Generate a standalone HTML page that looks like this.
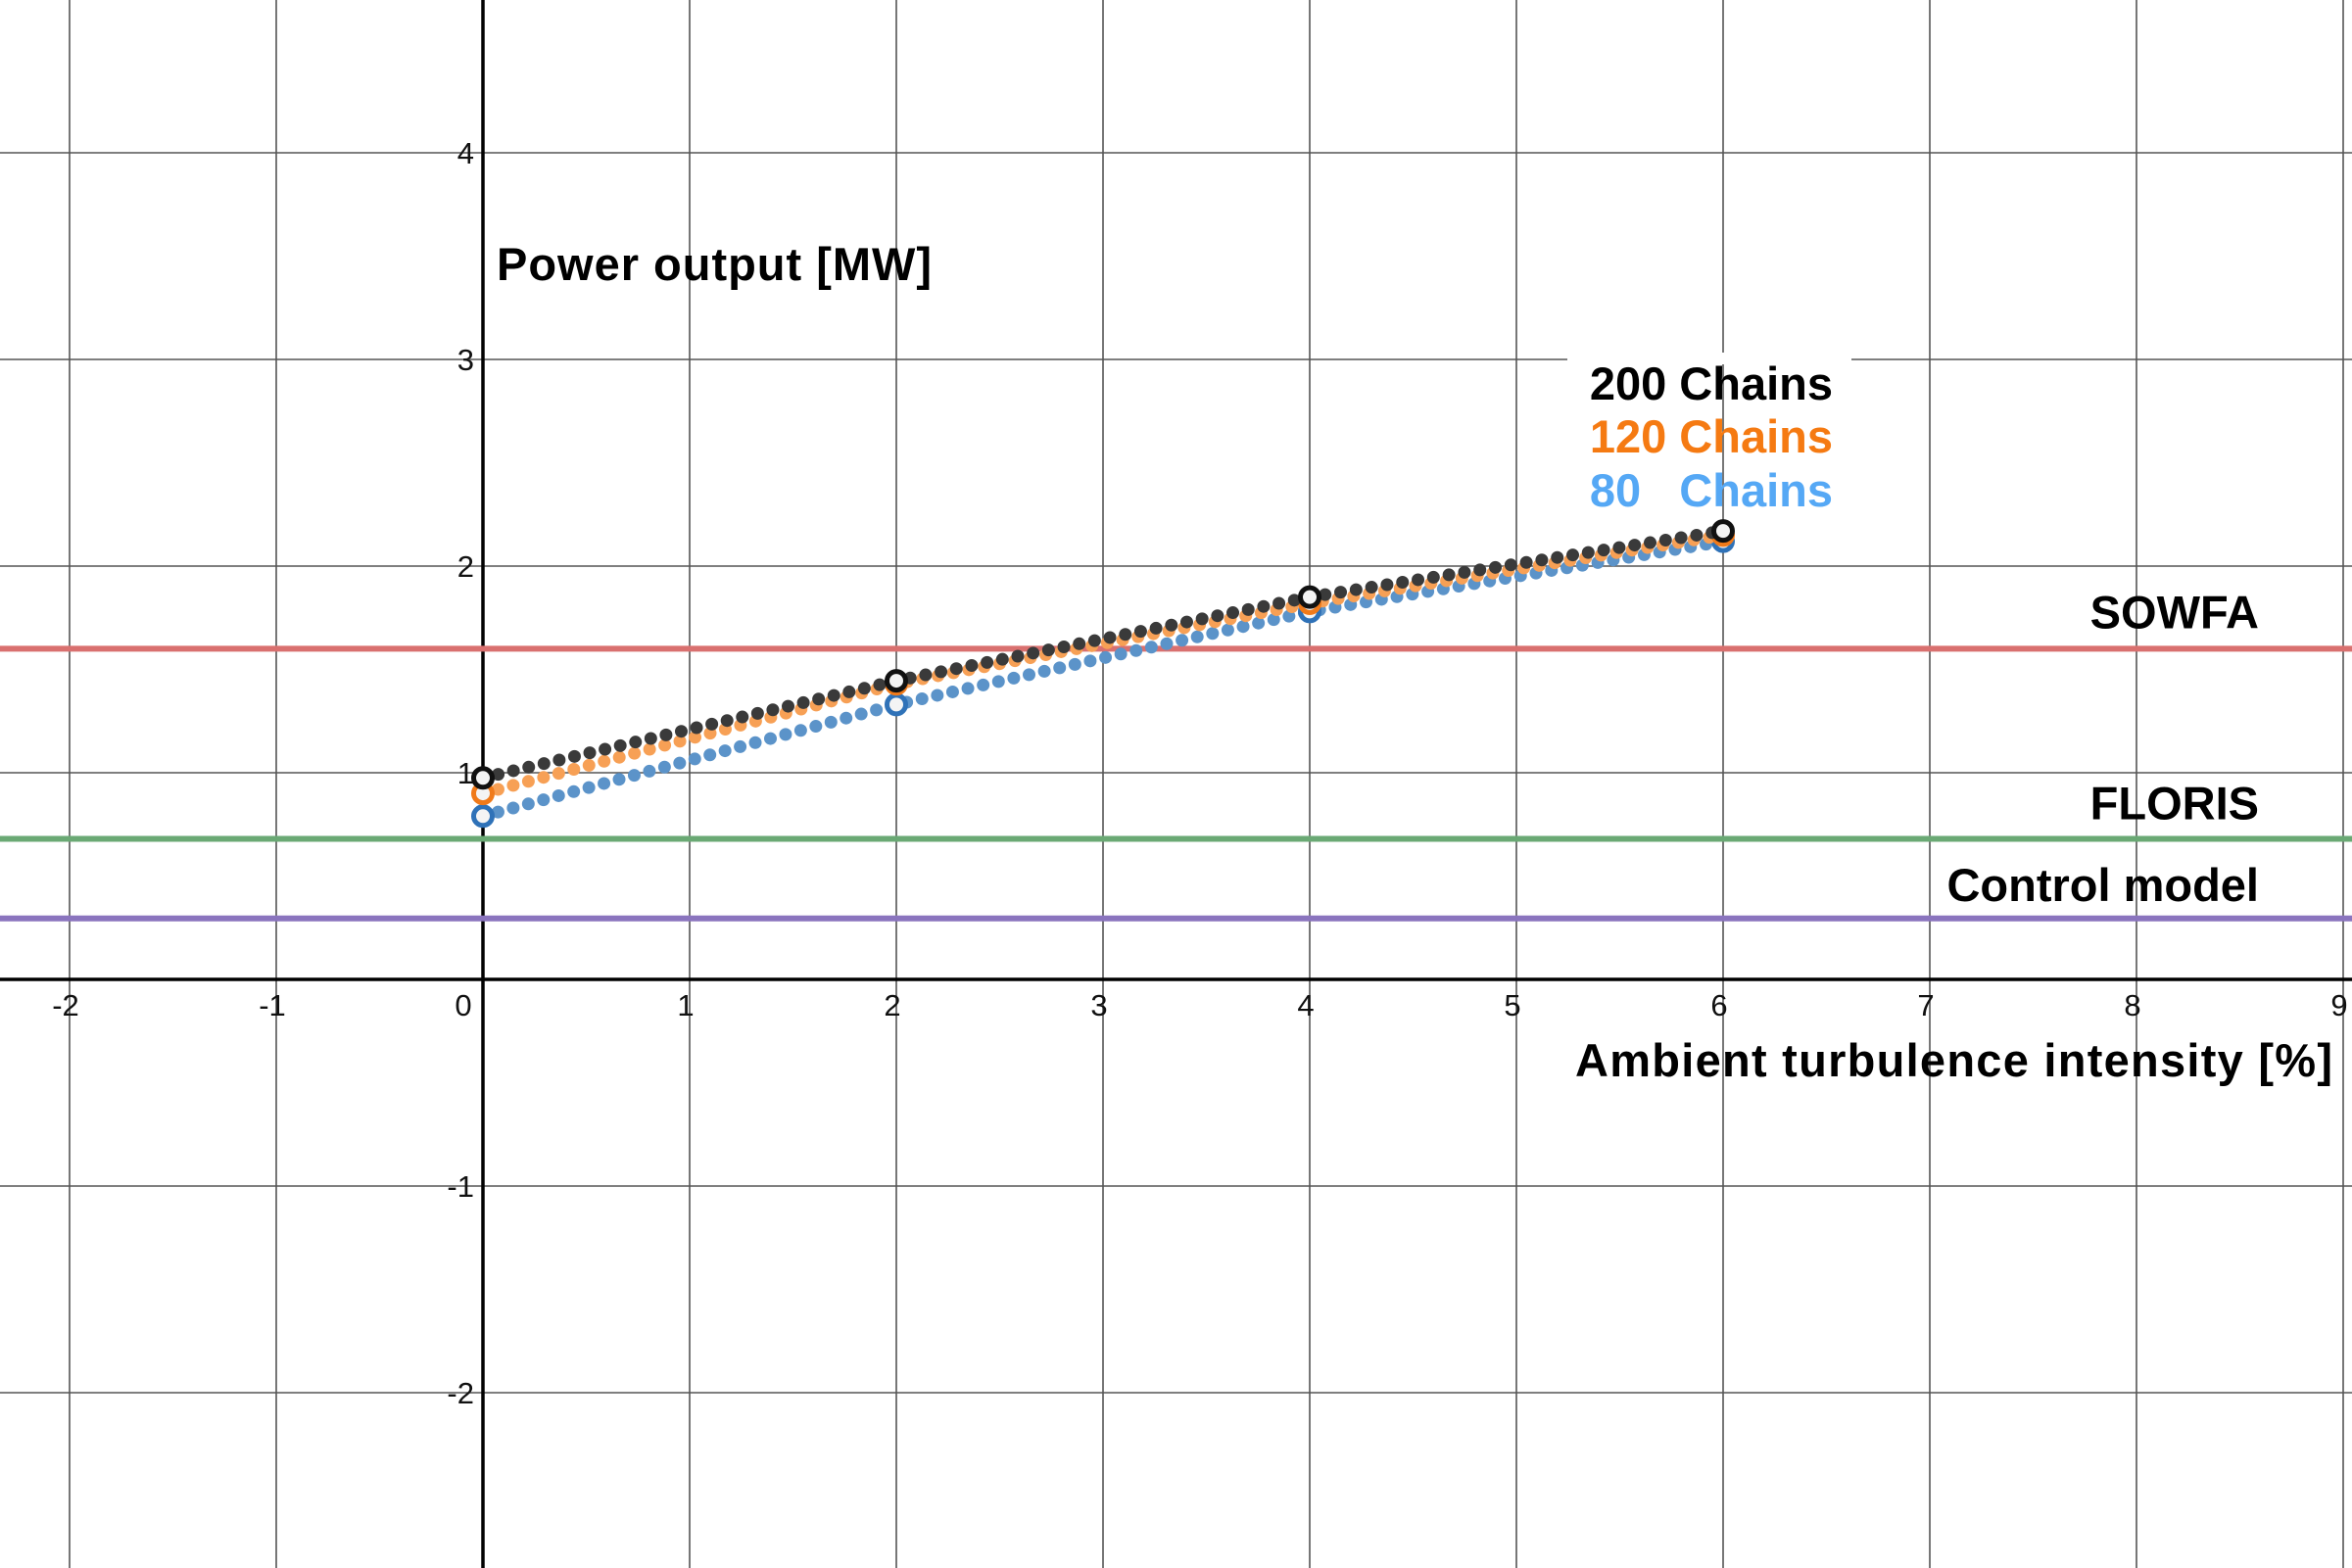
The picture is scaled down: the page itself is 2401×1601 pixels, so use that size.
<!DOCTYPE html>
<html><head><meta charset="utf-8"><style>
html,body{margin:0;padding:0;background:#fff}
svg{display:block;font-family:"Liberation Sans",sans-serif}
.lbl{font-weight:bold;font-size:47px}
.tick{font-size:31px;fill:#111}
</style></head><body>
<svg id="chart" width="2401" height="1601" viewBox="0 0 2401 1601" xmlns="http://www.w3.org/2000/svg">
<g id="grid"></g>
<g id="hlines"></g>
<g id="series"></g>
<g id="labels"></g>
</svg>
<script>
const xTicks=[-2,-1,0,1,2,3,4,5,6,7,8,9];
const yTicks=[-2,-1,1,2,3,4];
const xKeys=[0,2,4,6];
const s80=[0.79,1.33,1.78,2.12];
const s120=[0.90,1.43,1.82,2.15];
const s200=[0.975,1.445,1.85,2.17];
const refNames=["SOWFA","FLORIS","Control model"];
const refValues=[1.60,0.68,0.295];

const X0=493,Y0=1000,U=211;
const sx=v=>X0+v*U, sy=v=>Y0-v*U;
const NS="http://www.w3.org/2000/svg";
function mk(t,p,a){const e=document.createElementNS(NS,t);for(const k in a)e.setAttribute(k,a[k]);p.appendChild(e);return e;}
const grid=document.getElementById('grid'),hl=document.getElementById('hlines'),ser=document.getElementById('series'),lab=document.getElementById('labels');
xTicks.forEach(v=>{if(v===0)return;const l=mk('line',grid,{x1:sx(v),x2:sx(v),y1:0,y2:1601,stroke:'#555','stroke-width':1.6});

});
yTicks.forEach(v=>{const l=mk('line',grid,{x1:0,x2:2401,y1:sy(v),y2:sy(v),stroke:'#555','stroke-width':1.6});

});
let ax=mk('line',grid,{x1:0,x2:2401,y1:Y0,y2:Y0,stroke:'#000','stroke-width':3.5});


let ay=mk('line',grid,{x1:X0,x2:X0,y1:0,y2:1601,stroke:'#000','stroke-width':3.5});


xTicks.forEach(v=>{const t=mk('text',grid,{x:v===0?sx(v)-20:sx(v)-4,y:1037,'text-anchor':'middle',class:'tick'});t.textContent=v;

});
yTicks.forEach(v=>{const t=mk('text',grid,{x:484,y:sy(v)+11,'text-anchor':'end',class:'tick'});t.textContent=v;

});
const refColors=['#d9706f','#6aa974','#8a74be'];
const refLabelY=[-21,-20,-18];
refValues.forEach((v,i)=>{const l=mk('line',hl,{x1:0,x2:2401,y1:sy(v),y2:sy(v),stroke:refColors[i],'stroke-width':6});


const t=mk('text',hl,{x:2306,y:sy(v)+refLabelY[i],'text-anchor':'end',class:'lbl',fill:'#000'});t.textContent=refNames[i];

});
const seriesList=[[s80,'#5b93c9','#2f72b8','series-80-chains'],[s120,'#f7a055','#f07a1a','series-120-chains'],[s200,'#3a3a3a','#111','series-200-chains']];
seriesList.forEach(([d,c,oc,name])=>{
 const pts=xKeys.map((x,i)=>sx(x)+','+sy(d[i])).join(' ');
 const p=mk('polyline',ser,{points:pts,fill:'none',stroke:c,'stroke-width':13,'stroke-linecap':'round','stroke-dasharray':'0 16'});
 
 
 xKeys.forEach((x,i)=>{const k=mk('circle',ser,{cx:sx(x),cy:sy(d[i]),r:9.5,fill:'#f4f4f4',stroke:oc,'stroke-width':5});
 
 });
});
const bg=mk('rect',lab,{x:1600,y:360,width:290,height:12,fill:'#fff'});


[['200 Chains','#000',408],['120 Chains','#f57a12',462],['80\u00a0\u00a0\u00a0Chains','#55a8f5',517]].forEach(([s,c,y])=>{
 const t=mk('text',lab,{x:1871,y:y,'text-anchor':'end',class:'lbl',fill:c});t.textContent=s;
 
 });
let yt=mk('text',lab,{x:507,y:286,class:'lbl',fill:'#000',textLength:444,lengthAdjust:'spacing'});yt.textContent='Power output [MW]';


let xt=mk('text',lab,{x:1608,y:1099,class:'lbl',fill:'#000',textLength:773,lengthAdjust:'spacing'});xt.textContent='Ambient turbulence intensity [%]';


</script>
</body></html>
